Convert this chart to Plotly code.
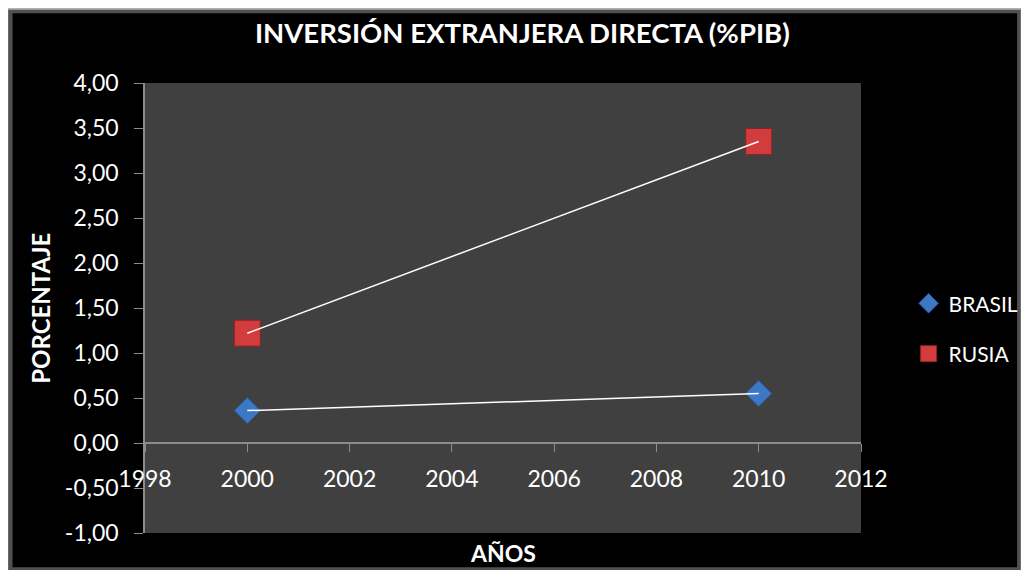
import plotly.graph_objects as go

years = [2000, 2010]
brasil = [0.36, 0.55]
rusia = [1.22, 3.35]
series_names = ["BRASIL", "RUSIA"]
y_ticks = [-1.0, -0.5, 0, 0.5, 1.0, 1.5, 2.0, 2.5, 3.0, 3.5, 4.0]
y_labels = ["-1,00", "-0,50", "0,00", "0,50", "1,00", "1,50", "2,00", "2,50", "3,00", "3,50", "4,00"]
x_ticks = [1998, 2000, 2002, 2004, 2006, 2008, 2010, 2012]

font = "Lato"
blue = "#3d78c6"
red = "#d23c3c"

fig = go.Figure()

# markers first, white line on top (like the excel picture)
fig.add_trace(go.Scatter(x=years, y=brasil, mode="markers", showlegend=False,
                         marker=dict(symbol="diamond", size=20, color=blue,
                                     line=dict(color="#2a5a9a", width=1))))
fig.add_trace(go.Scatter(x=years, y=rusia, mode="markers", showlegend=False,
                         marker=dict(symbol="square", size=26, color=red,
                                     line=dict(color="#8e2222", width=1))))
fig.add_trace(go.Scatter(x=years, y=brasil, mode="lines", showlegend=False,
                         line=dict(color="white", width=1.5), hoverinfo="skip"))
fig.add_trace(go.Scatter(x=years, y=rusia, mode="lines", showlegend=False,
                         line=dict(color="white", width=1.5), hoverinfo="skip"))

# legend-only entries
fig.add_trace(go.Scatter(x=[None], y=[None], mode="markers", name=series_names[0],
                         legendgroup="a",
                         marker=dict(symbol="diamond", size=15, color=blue,
                                     line=dict(color="#2a5a9a", width=1))))
fig.add_trace(go.Scatter(x=[None], y=[None], mode="markers", name=series_names[1],
                         legendgroup="b",
                         marker=dict(symbol="square", size=19, color=red,
                                     line=dict(color="#8e2222", width=1))))

shapes = [
    # soft frame edge
    dict(type="rect", xref="paper", yref="paper", x0=-0.196, x1=1.228, y0=-0.09, y1=1.17,
         fillcolor="#b0b0b0", line=dict(width=0), layer="below"),
    dict(type="rect", xref="paper", yref="paper", x0=-0.191, x1=1.223, y0=-0.083, y1=1.163,
         fillcolor="#505050", line=dict(width=0), layer="below"),
    dict(type="rect", xref="paper", yref="paper", x0=-0.185, x1=1.218, y0=-0.076, y1=1.155,
         fillcolor="black", line=dict(width=0), layer="below"),
    # plot area
    dict(type="rect", xref="paper", yref="paper", x0=0, x1=1, y0=0, y1=1,
         fillcolor="#404040", line=dict(width=0), layer="below"),
]

fig.update_layout(
    width=1013, height=562,
    margin=dict(l=137, r=160, t=75, b=37, autoexpand=False),
    paper_bgcolor="#ececec",
    plot_bgcolor="#404040",
    font=dict(family=font, color="white", size=23),
    title=dict(text="<b>INVERSIÓN EXTRANJERA DIRECTA (%PIB)</b>", x=0.527, xref="paper",
               y=1 - 25 / 562, yref="container", xanchor="center", yanchor="middle",
               font=dict(family=font, size=27.5, color="white")),
    shapes=shapes,
    showlegend=True,
    legend=dict(x=1.0665, y=0.454, xanchor="left", yanchor="middle",
                font=dict(family=font, size=21, color="white"),
                bgcolor="rgba(0,0,0,0)", tracegroupgap=20, itemwidth=30),
    annotations=[
        dict(text="<b>AÑOS</b>", x=0.5, y=-0.0444, xref="paper", yref="paper",
             xanchor="center", yanchor="middle",
             showarrow=False, font=dict(family=font, size=23, color="white")),
        dict(text="<b>PORCENTAJE</b>", x=-0.147, y=0.5, xref="paper", yref="paper",
             xanchor="center", yanchor="middle",
             textangle=-90, showarrow=False, font=dict(family=font, size=24, color="white")),
    ],
)

fig.update_xaxes(range=[1998, 2012], tickvals=x_ticks, ticktext=[str(t) for t in x_ticks],
                 anchor="free", position=0.2, showline=True, linecolor="#8c8c8c",
                 linewidth=1.5, ticks="outside", ticklen=8, tickcolor="#8c8c8c",
                 ticklabelstandoff=8,
                 showgrid=False, zeroline=False, tickfont=dict(size=23, color="white"))
fig.update_yaxes(range=[-1, 4], tickvals=y_ticks, ticktext=y_labels,
                 showline=True, linecolor="#8c8c8c", linewidth=1.5,
                 ticks="outside", ticklen=9, tickcolor="#8c8c8c",
                 ticklabelstandoff=11,
                 showgrid=False, zeroline=False, tickfont=dict(size=23, color="white"))

fig.write_html("out.html")
